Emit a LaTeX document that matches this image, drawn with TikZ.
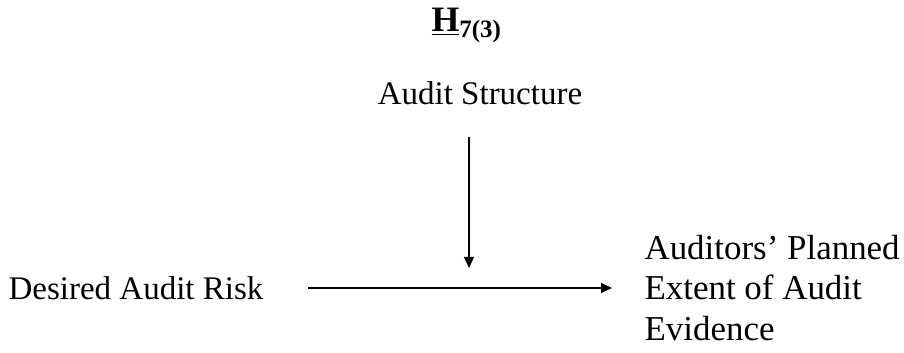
\documentclass[tikz,border=0pt]{standalone}
\usepackage{fontspec}
\setmainfont{Liberation Serif}
\usetikzlibrary{arrows.meta}

\begin{document}
\begin{tikzpicture}[x=0.3636pt,y=-0.3636pt,>={Triangle[length=4pt,width=3.6pt]},
  lbl/.style={font=\fontsize{12}{14.6}\selectfont,inner sep=0pt},
  link/.style={->,line width=0.55pt}]
\useasboundingbox (0,0) rectangle (904,353);
\node[lbl,font=\fontsize{13}{15}\selectfont\bfseries] (hyp) at (467,25) {\underline{H}\textsubscript{7(3)}};
\node[lbl] (struct) at (480,93) {Audit Structure};
\node[lbl,anchor=west] (risk) at (8,288) {Desired Audit Risk};
\node[lbl,font=\fontsize{12.7}{14.6}\selectfont,anchor=west,align=left] (evid) at (644,288) {Auditors' Planned\\Extent of Audit\\Evidence};
\coordinate (join) at (469,287);
\draw[link,shorten <=44*0.3636pt,shorten >=32*0.3636pt] (risk.east) -- (evid.west);
\draw[link,shorten >=19*0.3636pt] (struct.south -| join) ++(0,32) -- (join);
\end{tikzpicture}
\end{document}
